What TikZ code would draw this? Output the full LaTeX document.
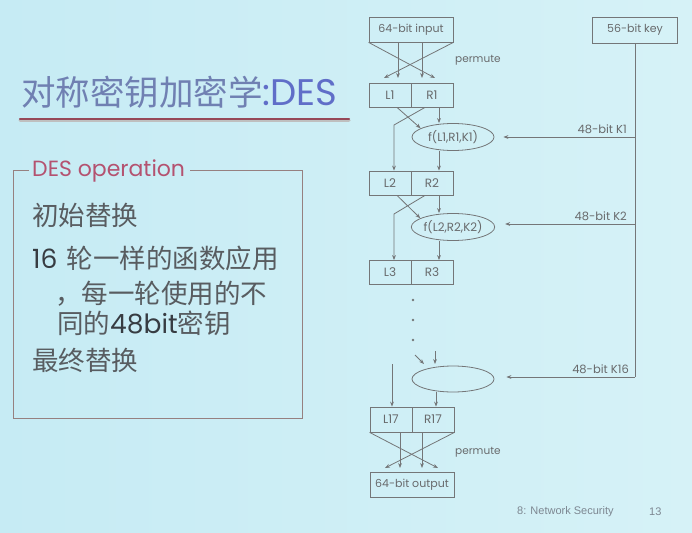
\documentclass[tikz,border=0pt]{standalone}
\usepackage{fontspec}
\usetikzlibrary{arrows.meta,shapes.geometric,calc}
\newfontfamily\cjk{Noto Sans CJK SC}
\newfontfamily\geo{Poppins}
\newfontfamily\foot{Liberation Sans}
\definecolor{bgL}{RGB}{198,235,244}
\definecolor{bgR}{RGB}{214,242,247}
\definecolor{titlecol}{RGB}{112,128,178}
\definecolor{descol}{RGB}{96,110,200}
\definecolor{ulcol}{RGB}{150,72,88}
\definecolor{opframe}{RGB}{150,128,128}
\definecolor{opcol}{RGB}{180,82,112}
\definecolor{txtcol}{RGB}{88,92,96}
\definecolor{darktxt}{RGB}{55,60,66}
\definecolor{wirecol}{RGB}{116,118,120}
\definecolor{diagtxt}{RGB}{104,106,108}
\definecolor{footcol}{RGB}{125,135,145}
\begin{document}
\begin{tikzpicture}[x=1pt,y=-1pt,
  blk/.style={draw=wirecol, line width=0.8pt, minimum height=24pt, inner sep=0pt,
              text=diagtxt, font=\geo\fontsize{11}{11}\selectfont},
  half/.style={blk, minimum width=42pt, font=\geo\fontsize{12}{12}\selectfont},
  fn/.style={draw=wirecol, line width=0.8pt, ellipse, minimum width=82pt,
             minimum height=27pt, inner sep=0pt, text=diagtxt,
             font=\geo\fontsize{11.8}{11.8}\selectfont},
  wire/.style={draw=wirecol, line width=0.8pt},
  arr/.style={wire, -{Stealth[length=5pt,width=3.8pt]}},
  klab/.style={inner sep=0pt, text=diagtxt, font=\geo\fontsize{11.5}{11.5}\selectfont},
  dot/.style={circle, fill=wirecol, inner sep=0pt, minimum size=2.8pt},
  line/.style={anchor=west, inner sep=0pt, text=txtcol, font=\cjk\fontsize{26.5}{26.5}\selectfont}
]
\useasboundingbox (0,0) rectangle (692,532);
\shade[left color=bgL, right color=bgR] (0,0) rectangle (692,532);

% heading and its underline
\node[anchor=west, inner sep=0pt] (head) at (21,92)
  {{\cjk\fontsize{34.5}{34.5}\selectfont\color{titlecol}对称密钥加密学}{\geo\fontsize{37}{37}\selectfont\color{descol}:DES}};
\coordinate (ulA) at (20,119);
\coordinate (ulB) at (349,119);
\draw[line width=3pt, black!25, line cap=round] ([yshift=-1.5pt]ulA) -- ([yshift=-1.5pt]ulB);
\draw[line width=2.4pt, ulcol, line cap=round] (ulA) -- (ulB);

% operation summary box
\node[anchor=west, inner sep=0pt, text=opcol, font=\geo\fontsize{22}{22}\selectfont] (optitle) at (32,171) {DES operation};
\draw[draw=opframe, line width=0.8pt] ([xshift=-3pt]optitle.west |- 0,170) -- (13,170) -- (13,418)
  -- (302,418) -- (302,170) -- ([xshift=5pt]optitle.east |- 0,170);
\node[line] (s1) at (32,215) {初始替换};
\node[line] (s2) at (32,258) {{\geo\color{darktxt}16}\hspace{9pt}轮一样的函数应用};
\node[line] (s3) at (55,294) {，每一轮使用的不};
\node[line] (s4) at (57,323) {同的{\geo\color{darktxt}48bit}密钥};
\node[line] (s5) at (32,360) {最终替换};

% DES flow
\node[blk, minimum width=84pt, minimum height=25pt] (in) at (411,29.5) {64-bit input};
\node[half] (L1) at (390,95) {L1};
\node[half] (R1) at (432,95) {R1};
\node[fn] (f1) at (453,137) {f(L1,R1,K1)};
\node[half] (L2) at (390,183) {L2};
\node[half] (R2) at (432,183) {R2};
\node[fn] (f2) at (453,227) {f(L2,R2,K2)};
\node[half] (L3) at (390,272.5) {L3};
\node[half] (R3) at (432,272.5) {R3};
\node[dot] (d1) at (413,300) {};
\node[dot] (d2) at (413,320) {};
\node[dot] (d3) at (413,340) {};
\node[fn, minimum height=26pt] (f16) at (453,379) {};
\node[half, minimum height=25pt] (L17) at (391,419.5) {L17};
\node[half, minimum height=25pt] (R17) at (433,419.5) {R17};
\node[blk, minimum width=84pt, minimum height=25pt] (out) at (412,484.5) {64-bit output};
\node[blk, minimum width=85pt, minimum height=26pt] (key) at (635,30) {56-bit key};

% initial permutation
\coordinate (pA) at (384,78);
\coordinate (pB) at (435,78);
\draw[arr] (in.south west) -- (pB);
\draw[arr] (in.south east) -- (pA);
\draw[arr] ([xshift=-13pt]in.south) -- ([xshift=-13pt]in.south |- pA);
\draw[arr] ([xshift=11pt]in.south) -- ([xshift=11pt]in.south |- pA);
\node[klab, anchor=west, font=\geo\fontsize{10.5}{10.5}\selectfont] (perm1) at (455,60) {permute};

% round 1
\coordinate (b1) at (394,125);
\draw[arr] ([xshift=7pt]L1.south) -- (f1.165);
\draw[arr] ([xshift=-7pt]R1.south) -- (b1) -- (b1 |- L2.north);
\draw[arr] ([xshift=7pt]R1.south) -- ([xshift=7pt]R1.south |- f1.north);
\draw[arr] ([xshift=7pt]R2.north |- f1.south) -- ([xshift=7pt]R2.north);

% round 2
\coordinate (b2) at (394,214);
\draw[arr] ([xshift=7pt]L2.south) -- (f2.165);
\draw[arr] ([xshift=-7pt]R2.south) -- (b2) -- (b2 |- L3.north);
\draw[arr] ([xshift=7pt]R2.south) -- ([xshift=7pt]R2.south |- f2.north);
\draw[arr] ([xshift=7pt]R3.north |- f2.south) -- ([xshift=7pt]R3.north);

% round 16
\coordinate (c1) at (415,355);
\coordinate (c2) at (424,364);
\coordinate (c3) at (435,351);
\coordinate (c4) at (435,364);
\coordinate (c5) at (392,364);
\draw[arr] (c1) -- (c2);
\draw[arr] (c3) -- (c4);
\draw[arr] (c5) -- (c5 |- L17.north);
\draw[arr] ([xshift=3pt]R17.north |- f16.south) -- ([xshift=3pt]R17.north);

% final permutation
\coordinate (qA) at (385,468);
\coordinate (qB) at (438,468);
\draw[arr] (L17.south west) -- (qB);
\draw[arr] (R17.south east) -- (qA);
\draw[arr] ([xshift=9pt]L17.south) -- ([xshift=9pt]L17.south |- qA);
\draw[arr] ([xshift=-11pt]R17.south) -- ([xshift=-11pt]R17.south |- qA);
\node[klab, anchor=west, font=\geo\fontsize{10.5}{10.5}\selectfont] (perm2) at (455,452) {permute};

% key schedule
\coordinate (k1) at (635,137);
\coordinate (k2) at (635,224);
\coordinate (k16) at (635,377);
\draw[wire] (key.south) -- (k16);
\draw[arr, shorten >=9pt] (k1) -- (k1 -| f1.east);
\draw[arr, shorten >=10pt] (k2) -- (k2 -| f2.east);
\draw[arr, shorten >=12pt] (k16) -- (k16 -| f16.east);
\node[klab, anchor=south east] (k1lab) at (627,134) {48-bit K1};
\node[klab, anchor=south east] (k2lab) at (627,221) {48-bit K2};
\node[klab, anchor=south east] (k16lab) at (629,374) {48-bit K16};

% footer
\node[anchor=west, inner sep=0pt, text=footcol, font=\foot\fontsize{11}{11}\selectfont] (ft) at (517,512) {8: Network Security};
\node[anchor=west, inner sep=0pt, text=footcol, font=\foot\fontsize{11}{11}\selectfont] (pg) at (649,512) {13};
\end{tikzpicture}
\end{document}
